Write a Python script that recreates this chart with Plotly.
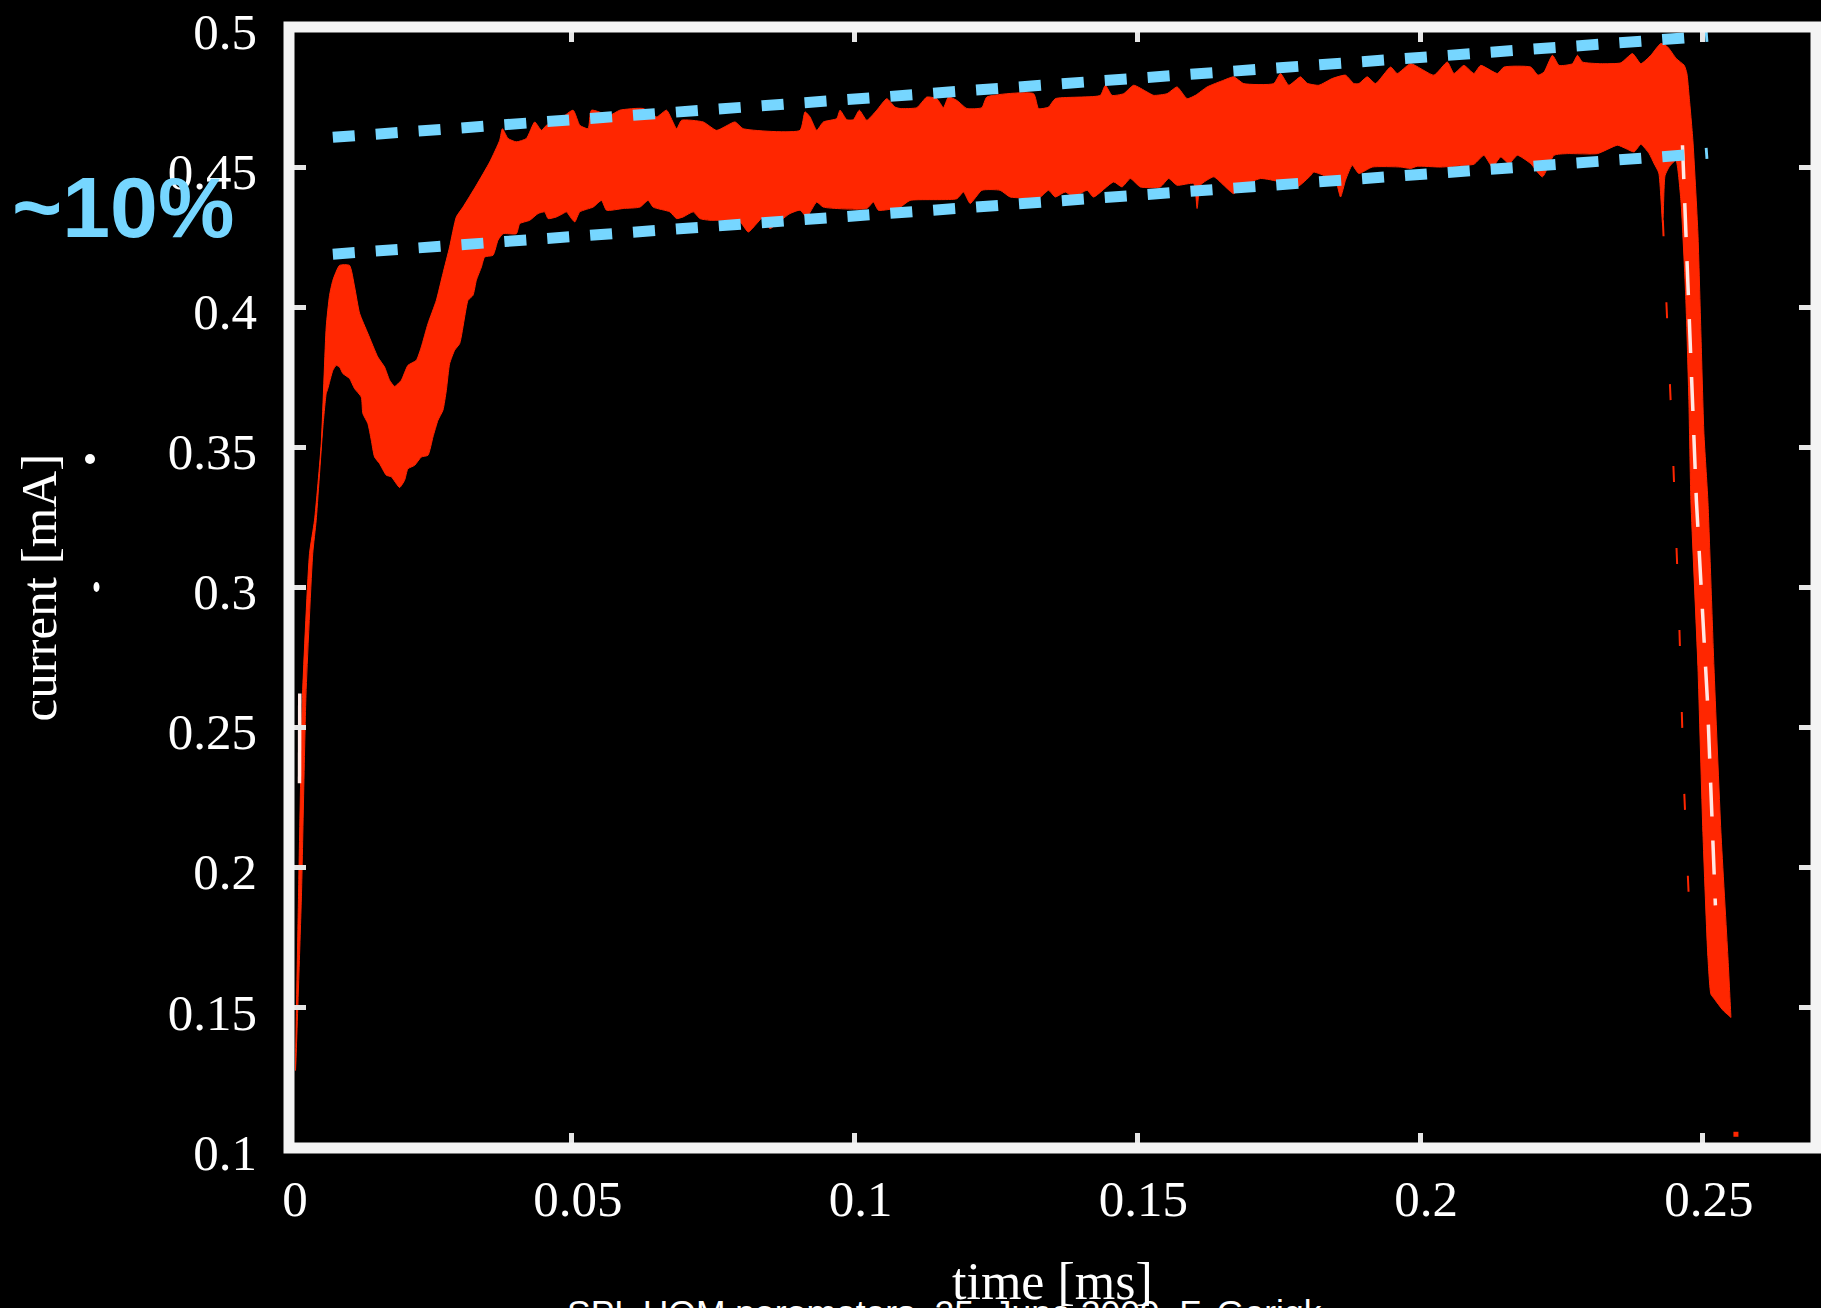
import plotly.graph_objects as go

# ---------------- data ----------------
# upper envelope of the beam-current band, from pulse start to the tip of the falling edge
upper_x = [0.00115, 0.00168, 0.00239, 0.00363, 0.00451, 0.0057, 0.00658, 0.00717, 0.00776, 0.00894,
           0.0107, 0.0116, 0.01248, 0.01395, 0.0157, 0.0169, 0.01779, 0.01867, 0.01986, 0.02103,
           0.02251, 0.0234, 0.02457, 0.02605, 0.02722, 0.0284, 0.02959, 0.03076, 0.03313, 0.03549,
           0.03726, 0.03773, 0.03873, 0.0402, 0.04198, 0.04345, 0.04463, 0.04552, 0.04729, 0.05023,
           0.05142, 0.05289, 0.05348, 0.05673, 0.0585, 0.06262, 0.065, 0.06676, 0.06854, 0.06942,
           0.07324, 0.07561, 0.07885, 0.08032, 0.09035, 0.09124, 0.09212, 0.09331, 0.09448, 0.09685,
           0.09743, 0.09862, 0.09979, 0.10085, 0.10216, 0.10393, 0.1057, 0.10717, 0.10805, 0.11101,
           0.11278, 0.11455, 0.11572, 0.1166, 0.11809, 0.11986, 0.12251, 0.1234, 0.13165, 0.13253,
           0.1343, 0.13549, 0.14345, 0.14434, 0.14552, 0.14758, 0.14935, 0.15172, 0.15289, 0.15526,
           0.15703, 0.1588, 0.16027, 0.16234, 0.16527, 0.16704, 0.16881, 0.17412, 0.17531, 0.17678,
           0.17885, 0.18004, 0.18209, 0.18446, 0.18681, 0.18828, 0.18917, 0.19065, 0.19212, 0.19478,
           0.19596, 0.19832, 0.20244, 0.20481, 0.20598, 0.20775, 0.20952, 0.21071, 0.21366, 0.21483,
           0.21956, 0.22085, 0.22191, 0.2234, 0.22457, 0.22694, 0.22782, 0.22871, 0.23195, 0.23549,
           0.23756, 0.23903, 0.2408, 0.24257, 0.24376, 0.24531, 0.2467, 0.24717, 0.24758, 0.24823,
           0.24912, 0.24965, 0.25018, 0.25088, 0.25195, 0.25319, 0.25442, 0.25496]
upper_y = [0.1276, 0.1898, 0.2615, 0.3122, 0.3240, 0.3514, 0.3930, 0.4043, 0.4097, 0.4150,
           0.4150, 0.4073, 0.3979, 0.3907, 0.3823, 0.3787, 0.3740, 0.3718, 0.3740, 0.3793,
           0.3811, 0.3859, 0.3942, 0.4025, 0.4121, 0.4216, 0.4323, 0.4358, 0.4436, 0.4519,
           0.4597, 0.4638, 0.4603, 0.4591, 0.4603, 0.4662, 0.4632, 0.4650, 0.4662, 0.4704,
           0.4650, 0.4638, 0.4704, 0.4686, 0.4704, 0.4710, 0.4680, 0.4704, 0.4638, 0.4668,
           0.4662, 0.4632, 0.4662, 0.4638, 0.4632, 0.4698, 0.4680, 0.4632, 0.4662, 0.4674,
           0.4704, 0.4670, 0.4670, 0.4704, 0.4668, 0.4704, 0.4745, 0.4715, 0.4710, 0.4713,
           0.4751, 0.4745, 0.4713, 0.4751, 0.4739, 0.4710, 0.4713, 0.4751, 0.4763, 0.4710,
           0.4715, 0.4745, 0.4757, 0.4793, 0.4757, 0.4763, 0.4793, 0.4769, 0.4757, 0.4763,
           0.4787, 0.4745, 0.4757, 0.4787, 0.4811, 0.4823, 0.4799, 0.4799, 0.4835, 0.4793,
           0.4823, 0.4800, 0.4793, 0.4817, 0.4829, 0.4799, 0.4799, 0.4823, 0.4799, 0.4858,
           0.4835, 0.4870, 0.4829, 0.4876, 0.4835, 0.4864, 0.4835, 0.4864, 0.4835, 0.4858,
           0.4858, 0.4829, 0.4840, 0.4900, 0.4864, 0.4870, 0.4900, 0.4876, 0.4870, 0.4873,
           0.4906, 0.4870, 0.4900, 0.4942, 0.4930, 0.4888, 0.4864, 0.4835, 0.4751, 0.4597,
           0.4265, 0.3908, 0.3550, 0.3311, 0.2719, 0.2126, 0.1683, 0.1465]

# lower envelope, from pulse start to the tip of the falling edge
lower_x = [0.00115, 0.0022, 0.0030, 0.0042, 0.00481, 0.00599, 0.00658, 0.00687, 0.00775, 0.00835,
           0.00894, 0.00952, 0.01071, 0.01159, 0.01278, 0.01306, 0.01395, 0.01455, 0.01513, 0.01602,
           0.0172, 0.01809, 0.01956, 0.02044, 0.02103, 0.02221, 0.0234, 0.02457, 0.02545, 0.02634,
           0.02722, 0.02782, 0.0284, 0.02929, 0.03018, 0.03106, 0.03165, 0.03253, 0.03313, 0.03402,
           0.0346, 0.03607, 0.03696, 0.03784, 0.0402, 0.0408, 0.04257, 0.04404, 0.04522, 0.04581,
           0.04729, 0.04846, 0.04906, 0.04995, 0.05053, 0.05142, 0.05377, 0.05526, 0.05614, 0.05908,
           0.06204, 0.0635, 0.06439, 0.06735, 0.06853, 0.0697, 0.07147, 0.07265, 0.07442, 0.07915,
           0.08003, 0.0812, 0.08269, 0.08386, 0.08504, 0.08623, 0.08858, 0.09035, 0.09154, 0.09331,
           0.09448, 0.10216, 0.10333, 0.10421, 0.10805, 0.10982, 0.11809, 0.11926, 0.12044, 0.12251,
           0.12575, 0.12752, 0.13283, 0.1343, 0.13549, 0.13726, 0.13873, 0.1411, 0.14226, 0.14581,
           0.14729, 0.14876, 0.15053, 0.15407, 0.15554, 0.15703, 0.15996, 0.16057, 0.16115, 0.16351,
           0.16527, 0.16704, 0.16823, 0.17177, 0.17531, 0.17826, 0.18062, 0.1812, 0.18357, 0.18504,
           0.18593, 0.18681, 0.18799, 0.18917, 0.19154, 0.19655, 0.19832, 0.1995, 0.20363, 0.20775,
           0.20952, 0.21129, 0.21278, 0.21425, 0.21572, 0.2172, 0.21956, 0.22163, 0.22368, 0.22605,
           0.23136, 0.2349, 0.23637, 0.23784, 0.23903, 0.2405, 0.24138, 0.2422, 0.2429, 0.2433,
           0.2440, 0.24522, 0.24611, 0.24699, 0.24752, 0.24788, 0.24912, 0.2500, 0.25088, 0.25142,
           0.25195, 0.25354, 0.25496]
lower_y = [0.1276, 0.1898, 0.2615, 0.3122, 0.3240, 0.3573, 0.3692, 0.3710, 0.3775, 0.3793,
           0.3787, 0.3764, 0.3746, 0.3710, 0.3680, 0.3621, 0.3585, 0.3526, 0.3466, 0.3442,
           0.3401, 0.3395, 0.3357, 0.3383, 0.3424, 0.3436, 0.3466, 0.3472, 0.3537, 0.3597,
           0.3633, 0.3704, 0.3799, 0.3847, 0.3871, 0.3966, 0.4025, 0.4043, 0.4097, 0.4144,
           0.4180, 0.4186, 0.4240, 0.4263, 0.4263, 0.4299, 0.4311, 0.4335, 0.4341, 0.4317,
           0.4323, 0.4335, 0.4341, 0.4317, 0.4305, 0.4341, 0.4358, 0.4382, 0.4347, 0.4353,
           0.4358, 0.4382, 0.4358, 0.4341, 0.4317, 0.4323, 0.4341, 0.4317, 0.4311, 0.4311,
           0.4299, 0.4269, 0.4299, 0.4323, 0.4281, 0.4299, 0.4335, 0.4347, 0.4323, 0.4376,
           0.4358, 0.4353, 0.4376, 0.4347, 0.4358, 0.4382, 0.4388, 0.4412, 0.4371, 0.4418,
           0.4418, 0.4394, 0.4394, 0.4418, 0.4394, 0.4412, 0.4394, 0.4418, 0.4394, 0.4448,
           0.4430, 0.4460, 0.4430, 0.4430, 0.4460, 0.4436, 0.4442, 0.4353, 0.4436, 0.4466,
           0.4436, 0.4406, 0.4430, 0.4460, 0.4448, 0.4430, 0.4470, 0.4483, 0.4466, 0.4454,
           0.4394, 0.4454, 0.4507, 0.4478, 0.4501, 0.4501, 0.4496, 0.4504, 0.4501, 0.4507,
           0.4511, 0.4543, 0.4501, 0.4537, 0.4513, 0.4543, 0.4513, 0.4466, 0.4543, 0.4549,
           0.4549, 0.4579, 0.4567, 0.4555, 0.4582, 0.4549, 0.4513, 0.4480, 0.4293, 0.4470,
           0.4500, 0.4525, 0.4382, 0.4025, 0.3668, 0.3311, 0.2719, 0.2126, 0.1683, 0.1548,
           0.1533, 0.1491, 0.1465]

# the "~10%" guide lines (start / end points)
guide_x = [0.00775, 0.2509]
guide_upper_y = [0.4607, 0.4968]
guide_lower_y = [0.4190, 0.4550]

# thin white dashed trace inside the falling edge
fall_white_x = [0.24639, 0.24744, 0.24885, 0.25080, 0.25221]
fall_white_y = [0.4579, 0.4025, 0.3311, 0.2597, 0.1865]
# faint red dashed trace left of the falling edge
fall_red_x = [0.24292, 0.24469, 0.24575, 0.24664, 0.24788]
fall_red_y = [0.4311, 0.3483, 0.2922, 0.2297, 0.1719]
# short white segment at the pulse start
start_white_x = [0.00186, 0.00190]
start_white_y = [0.2301, 0.2622]
# isolated red sample near the bottom right
stray_x = [0.25584]
stray_y = [0.1048]

x_range = [0, 0.27]
y_range = [0.0999, 0.5001]
x_ticks = [0, 0.05, 0.1, 0.15, 0.2, 0.25]
x_tick_text = ["0", "0.05", "0.1", "0.15", "0.2", "0.25"]
y_ticks = [0.1, 0.15, 0.2, 0.25, 0.3, 0.35, 0.4, 0.45, 0.5]
y_tick_text = ["0.1", "0.15", "0.2", "0.25", "0.3", "0.35", "0.4", "0.45", "0.5"]

RED = "#FF2600"
BLUE = "#76D6FF"
SERIF = "Liberation Serif, Times New Roman, serif"
SANS = "Liberation Sans, Arial, Helvetica, sans-serif"

fig = go.Figure()

band_x = upper_x + lower_x[::-1]
band_y = upper_y + lower_y[::-1]
fig.add_trace(go.Scatter(x=band_x, y=band_y, mode="lines", fill="toself",
                         fillcolor=RED, line=dict(color=RED, width=1, shape="spline", smoothing=0.5),
                         hoverinfo="skip", showlegend=False))
fig.add_trace(go.Scatter(x=fall_red_x, y=fall_red_y, mode="lines",
                         line=dict(color=RED, width=2, dash="16px,66px"),
                         hoverinfo="skip", showlegend=False))
fig.add_trace(go.Scatter(x=fall_white_x, y=fall_white_y, mode="lines",
                         line=dict(color="#ffe8e4", width=3.5, dash="34px,24px"),
                         hoverinfo="skip", showlegend=False))
fig.add_trace(go.Scatter(x=start_white_x, y=start_white_y, mode="lines",
                         line=dict(color="#ffe8e4", width=3.5),
                         hoverinfo="skip", showlegend=False))
fig.add_trace(go.Scatter(x=stray_x, y=stray_y, mode="markers",
                         marker=dict(color=RED, size=5, symbol="square"),
                         hoverinfo="skip", showlegend=False))
for gy in (guide_upper_y, guide_lower_y):
    fig.add_trace(go.Scatter(x=guide_x, y=gy, mode="lines",
                             line=dict(color=BLUE, width=11, dash="22px,21px"),
                             hoverinfo="skip", showlegend=False))

axis_common = dict(showgrid=False, zeroline=False, showline=False,
                   ticks="inside", tickwidth=5, tickcolor="#e6e6e6",
                   mirror="ticks", tickmode="array",
                   tickfont=dict(family=SERIF, size=51, color="white"))

fig.update_xaxes(range=x_range, tickvals=x_ticks, ticktext=x_tick_text, ticklen=15,
                 ticklabelstandoff=16, ticklabelshift=6, **axis_common)
fig.update_yaxes(range=y_range, tickvals=y_ticks, ticktext=y_tick_text, ticklen=17,
                 ticklabelstandoff=31, ticklabelshift=4, **axis_common)

# thick white frame around the plot area
fig.add_shape(type="rect", xref="paper", yref="paper", x0=0, y0=0, x1=1, y1=1,
              line=dict(color="#f4f4f4", width=11), layer="above")
# two small white dots beside the y title
fig.add_shape(type="circle", xref="paper", yref="paper", xsizemode="pixel", ysizemode="pixel",
              xanchor=0, yanchor=0.6146, x0=-204, x1=-194, y0=-5, y1=5,
              fillcolor="white", line=dict(width=0))
fig.add_shape(type="circle", xref="paper", yref="paper", xsizemode="pixel", ysizemode="pixel",
              xanchor=0, yanchor=0.5004, x0=-195.5, x1=-189.5, y0=-5, y1=5,
              fillcolor="white", line=dict(width=0))

fig.add_annotation(text="time [ms]", xref="paper", yref="paper", x=0.5, y=0,
                   xanchor="center", yanchor="top", yshift=-103, showarrow=False,
                   font=dict(family=SERIF, size=52, color="white"))
fig.add_annotation(text="current [mA]", xref="paper", yref="paper", x=0, y=0.5,
                   xanchor="center", yanchor="middle", xshift=-251, textangle=-90,
                   showarrow=False, font=dict(family=SERIF, size=51, color="white"))
fig.add_annotation(text="~10%", xref="paper", yref="paper", x=0, y=0.8394,
                   xanchor="center", yanchor="middle", xshift=-166, showarrow=False,
                   font=dict(family=SANS, size=86, color=BLUE, weight="bold"))
fig.add_annotation(text="SPL HOM parameters, 25. June 2009, F. Gerigk", xref="paper", yref="paper",
                   x=0.4293, y=0, xanchor="center", yanchor="top", yshift=-143,
                   showarrow=False, font=dict(family=SANS, size=35.5, color="white"))

fig.update_layout(width=1821, height=1308,
                  margin=dict(l=289, r=5, t=27, b=160),
                  paper_bgcolor="black", plot_bgcolor="black",
                  showlegend=False)

fig.write_html("out.html",
               config={"displayModeBar": False},
               post_script="document.body.style.margin='0';"
                           "document.body.style.background='black';"
                           "document.body.style.overflow='hidden';")
